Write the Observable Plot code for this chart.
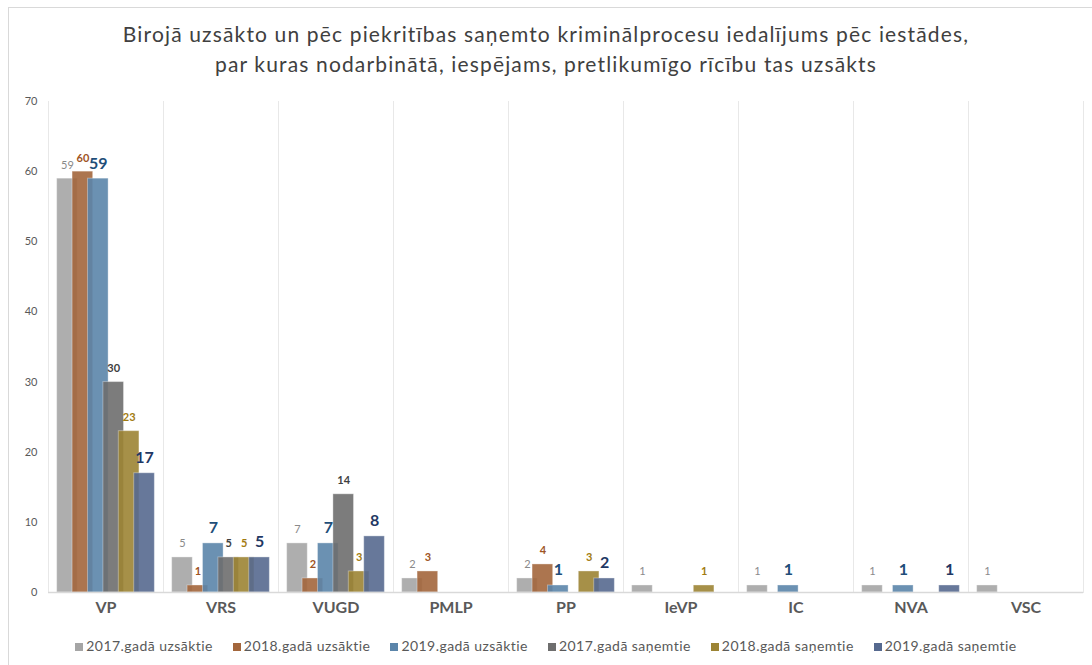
<!DOCTYPE html>
<html><head><meta charset="utf-8">
<script src="https://cdn.jsdelivr.net/npm/d3@7"></script>
<script src="https://cdn.jsdelivr.net/npm/@observablehq/plot@0.6"></script>
<style>
body{margin:0;background:#fff;font-family:Lato,"Open Sans",sans-serif;}
#wrap{position:relative;width:1092px;height:665px;overflow:hidden;background:#fff;}
#frame{position:absolute;left:8px;top:7px;width:1200px;height:800px;border:1px solid #d9d9d9;}
#title{position:absolute;top:19px;left:0;width:1092px;text-align:center;font-size:21px;color:#404040;line-height:30px;letter-spacing:1.15px;}
#chart{position:absolute;left:0;top:80px;}
#legend{position:absolute;top:637px;left:0;width:1092px;display:flex;justify-content:center;gap:20px;font-size:14px;letter-spacing:0.45px;color:#595959;}
#legend span.sw{display:inline-block;width:8px;height:8px;margin-right:3px;vertical-align:0px;}
</style></head>
<body><div id="wrap"><div id="frame"></div>
<div id="title">Birojā uzsākto un pēc piekritības saņemto kriminālprocesu iedalījums pēc iestādes,<br>par kuras nodarbinātā, iespējams, pretlikumīgo rīcību tas uzsākts</div>
<div id="chart"></div><div id="legend"></div></div>
<script>
const categories = ["VP","VRS","VUGD","PMLP","PP","IeVP","IC","NVA","VSC"];
const seriesNames = ["2017.gadā uzsāktie","2018.gadā uzsāktie","2019.gadā uzsāktie","2017.gadā saņemtie","2018.gadā saņemtie","2019.gadā saņemtie"];
const v2017u = [59,5,7,2,2,1,1,1,1];
const v2018u = [60,1,2,3,4,0,0,0,0];
const v2019u = [59,7,7,0,1,0,1,1,0];
const v2017s = [30,5,14,0,0,0,0,0,0];
const v2018s = [23,5,3,0,3,1,0,0,0];
const v2019s = [17,5,8,0,2,0,0,1,0];
const yTicks = [0,10,20,30,40,50,60,70];

const values = [v2017u,v2018u,v2019u,v2017s,v2018s,v2019s];
const barColors = ["#A5A5A5","#A3663C","#5B85AA","#6E6E6E","#9C8434","#56698F"];
const labelStyles = [
  {fill:"#8a8a8a", fontSize:11, fontWeight:"normal"},
  {fill:"#9E5424", fontSize:11, fontWeight:"bold"},
  {fill:"#1F4E79", fontSize:16, fontWeight:"bold"},
  {fill:"#404040", fontSize:11, fontWeight:"bold"},
  {fill:"#A27B10", fontSize:11, fontWeight:"bold"},
  {fill:"#1F3864", fontSize:16, fontWeight:"bold"}
];

const rows = [];
values.forEach((arr, si) => arr.forEach((v, ci) => {
  if (v > 0) rows.push({cat: categories[ci], series: seriesNames[si], si, value: v});
}));

const marks = [
  Plot.frame({anchor: "left", stroke: "#e8e8e8"}),
  Plot.frame({anchor: "right", stroke: "#e8e8e8"}),
  Plot.barY(rows, {fx: "cat", x: "series", y: "value", fill: d => barColors[d.si],
    fillOpacity: 0.9, stroke: "#ffffff", strokeOpacity: 0.35, strokeWidth: 1,
    insetLeft: -2.6, insetRight: -2.6}),
  Plot.ruleY([0], {stroke: "#d9d9d9", strokeWidth: 1.5}),
  Plot.axisY({ticks: yTicks, tickSize: 0, tickPadding: 11, fontSize: 11, fill: "#595959", label: null}),
  Plot.axisFx({anchor: "bottom", tickSize: 0, tickPadding: 9, fontSize: 16, fontWeight: "bold", fill: "#595959", label: null})
];
labelStyles.forEach((st, si) => {
  marks.push(Plot.text(rows.filter(d => d.si === si), {fx: "cat", x: "series", y: "value", text: d => String(d.value),
    lineAnchor: "bottom", dy: -10, fill: st.fill, fontSize: st.fontSize, fontWeight: st.fontWeight}));
});

const chart = Plot.plot({
  width: 1092, height: 552,
  marginLeft: 48, marginRight: 9, marginTop: 21, marginBottom: 40,
  style: {fontFamily: "Lato, 'Open Sans', sans-serif", background: "transparent", overflow: "visible"},
  fx: {domain: categories, padding: 0, round: false},
  x: {domain: seriesNames, paddingInner: 0, paddingOuter: 0.73, round: false, axis: null},
  y: {domain: [0, 70], axis: null},
  color: {type: "identity"},
  marks
});
document.getElementById("chart").appendChild(chart);

const legend = document.getElementById("legend");
seriesNames.forEach((n, i) => {
  const it = document.createElement("div");
  it.innerHTML = `<span class="sw" style="background:${barColors[i]}"></span>${n}`;
  legend.appendChild(it);
});
</script></body></html>
